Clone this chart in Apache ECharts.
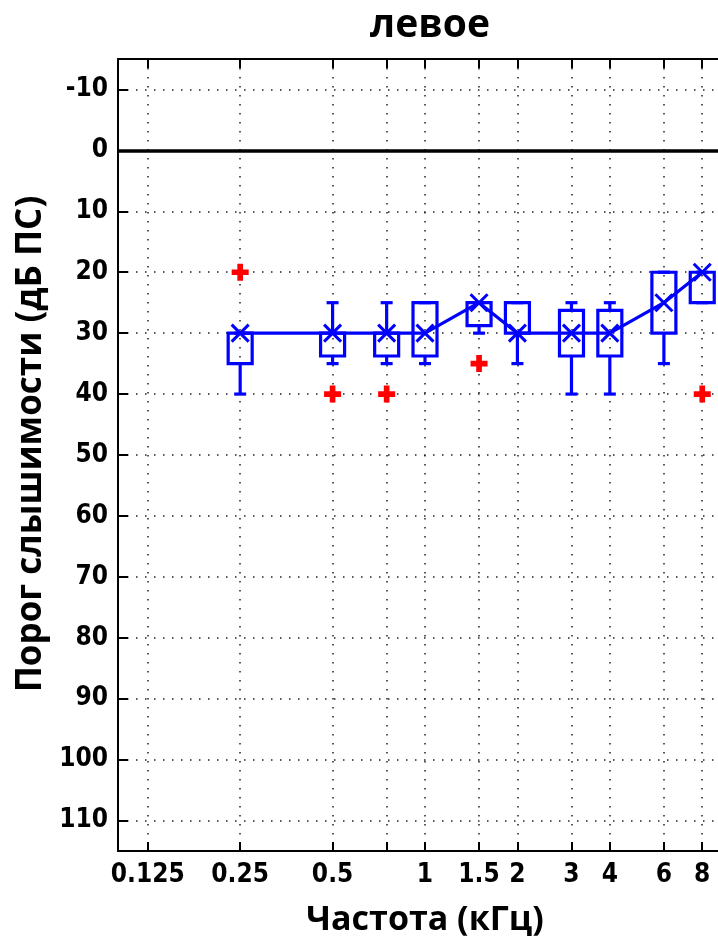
<!DOCTYPE html>
<html>
<head>
<meta charset="utf-8">
<script src="https://cdn.jsdelivr.net/npm/echarts@6/dist/echarts.min.js"></script>
<style>
  html, body { margin: 0; padding: 0; background: #fff; }
  #chart { width: 718px; height: 936px; }
</style>
</head>
<body>
<div id="chart"></div>
<script>
// частоты (кГц)
const freqs = [0.25, 0.5, 0.75, 1, 1.5, 2, 3, 4, 6, 8]
// боксплоты: верхний ус, Q1, медиана, Q3, нижний ус (дБ)
const whiskerLow = [30, 25, 25, 25, 25, 25, 25, 25, 20, 20]
const q1 = [30, 30, 30, 25, 25, 25, 26.25, 26.25, 20, 20]
const medians = [30, 30, 30, 30, 25, 30, 30, 30, 25, 20]
const q3 = [35, 33.75, 33.75, 33.75, 28.75, 30, 33.75, 33.75, 30, 25]
const whiskerHigh = [40, 35, 35, 35, 30, 35, 40, 40, 35, 25]
// выбросы
const outlierFreqs = [0.25, 0.5, 0.75, 1.5, 8]
const outlierValues = [20, 40, 40, 35, 40]
// подписи осей
const xTickFreqs = [0.125, 0.25, 0.5, 0.75, 1, 1.5, 2, 3, 4, 6, 8]
const xLabelFreqs = [0.125, 0.25, 0.5, 1, 1.5, 2, 3, 4, 6, 8]
const yTicks = [-10, 0, 10, 20, 30, 40, 50, 60, 70, 80, 90, 100, 110]

const lg = v => Math.log2(v)
const BLUE = '#0000ff'
const labelFont = { fontFamily: '"DejaVu Sans Condensed", "Liberation Sans", sans-serif', fontWeight: 'bold', fontSize: 26, color: '#000' }
const titleFont = { fontFamily: 'Open Sans', fontWeight: 'bold', color: '#000' }

const boxData = freqs.map((f, i) => [lg(f), whiskerLow[i], q1[i], medians[i], q3[i], whiskerHigh[i]])
const medianData = freqs.map((f, i) => [lg(f), medians[i]])
const outlierData = outlierFreqs.map((f, i) => [lg(f), outlierValues[i]])

const chart = echarts.init(document.getElementById('chart'))

const xBase = {
  type: 'value',
  min: lg(0.1),
  max: lg(10),
  axisLine: { show: true, onZero: false, lineStyle: { color: '#000', width: 2 } },
  axisTick: { show: true, inside: true, length: 9, customValues: xTickFreqs.map(lg), lineStyle: { color: '#000', width: 2 } }
}

chart.setOption({
  animation: false,
  title: {
    text: 'левое',
    left: 425,
    textAlign: 'center',
    top: 1,
    textStyle: Object.assign({ fontSize: 39 }, titleFont)
  },
  grid: { left: 118, right: -14, top: 59, bottom: 85, outerBoundsMode: 'none' },
  xAxis: [
    Object.assign({}, xBase, {
      position: 'bottom',
      name: 'Частота (кГц)',
      nameLocation: 'middle',
      nameGap: 52,
      nameTextStyle: Object.assign({ fontSize: 34 }, titleFont),
      axisLabel: {
        customValues: xLabelFreqs.map(lg),
        margin: 11,
        formatter: v => String(parseFloat(Math.pow(2, v).toPrecision(3))),
        ...labelFont
      },
      splitLine: { show: true, lineStyle: { color: '#222', width: 1.5, type: [1.5, 7.5] } }
    }),
    Object.assign({}, xBase, {
      position: 'top',
      axisLabel: { show: false },
      splitLine: { show: false }
    })
  ],
  yAxis: {
    type: 'value',
    inverse: true,
    min: -15,
    max: 115,
    name: 'Порог слышимости (дБ ПС)',
    nameLocation: 'middle',
    nameGap: 68,
    nameTextStyle: Object.assign({ fontSize: 35, padding: [0, 0, 0, 22] }, titleFont),
    axisLine: { show: true, onZero: false, lineStyle: { color: '#000', width: 2 } },
    axisTick: { show: true, inside: true, length: 10, customValues: yTicks, lineStyle: { color: '#000', width: 2 } },
    axisLabel: { customValues: yTicks, margin: 10, ...labelFont },
    splitLine: { show: true, lineStyle: { color: '#222', width: 1.5, type: [1.5, 7.5] } }
  },
  series: [
    {
      type: 'custom',
      data: boxData,
      encode: { x: 0, y: [1, 2, 3, 4, 5] },
      z: 3,
      renderItem: (params, api) => {
        const x = api.value(0)
        const pLo = api.coord([x, api.value(1)])
        const pQ1 = api.coord([x, api.value(2)])
        const pQ3 = api.coord([x, api.value(4)])
        const pHi = api.coord([x, api.value(5)])
        const cx = pQ1[0]
        const bw = 24, cw = 12
        const st = { stroke: BLUE, lineWidth: 3.2, fill: null }
        return {
          type: 'group',
          children: [
            { type: 'line', shape: { x1: cx, y1: pLo[1], x2: cx, y2: pQ1[1] }, style: st },
            { type: 'line', shape: { x1: cx, y1: pQ3[1], x2: cx, y2: pHi[1] }, style: st },
            { type: 'line', shape: { x1: cx - cw / 2, y1: pLo[1], x2: cx + cw / 2, y2: pLo[1] }, style: st },
            { type: 'line', shape: { x1: cx - cw / 2, y1: pHi[1], x2: cx + cw / 2, y2: pHi[1] }, style: st },
            { type: 'rect', shape: { x: cx - bw / 2, y: pQ1[1], width: bw, height: pQ3[1] - pQ1[1] }, style: st }
          ]
        }
      }
    },
    {
      type: 'line',
      data: medianData,
      z: 4,
      symbol: 'path://M0,0L10,10M10,0L0,10',
      symbolSize: 17,
      showSymbol: true,
      lineStyle: { color: BLUE, width: 3.2 },
      itemStyle: { color: BLUE, borderColor: BLUE, borderWidth: 3 }
    },
    {
      type: 'scatter',
      data: outlierData,
      z: 5,
      symbol: 'path://M4,0H8V4H12V8H8V12H4V8H0V4H4Z',
      symbolSize: 17,
      itemStyle: { color: '#ff0000', opacity: 1 },
      markLine: {
        silent: true,
        symbol: ['none', 'none'],
        label: { show: false },
        lineStyle: { color: '#000', width: 3.5, type: 'solid' },
        data: [{ yAxis: 0 }]
      }
    }
  ]
})
</script>
</body>
</html>
